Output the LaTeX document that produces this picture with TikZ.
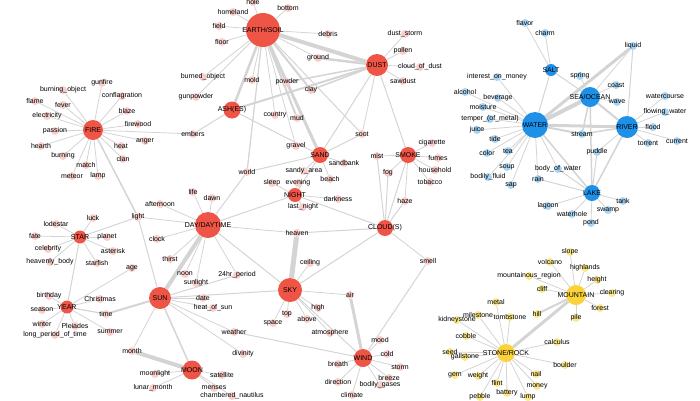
\documentclass[tikz,border=0pt]{standalone}
\usepackage{fontspec}
\setmainfont{Liberation Sans}
\usetikzlibrary{backgrounds}
\definecolor{hr}{HTML}{EF5546}
\definecolor{lr}{HTML}{F9CFCB}
\definecolor{hb}{HTML}{1E90E8}
\definecolor{lb}{HTML}{A9D5F5}
\definecolor{hy}{HTML}{FCD23A}
\definecolor{ly}{HTML}{FBE78C}
\definecolor{eg}{HTML}{D4D4D4}
\tikzset{
 lab/.style={font=\fontsize{7}{7}\selectfont,text=black,inner sep=0pt},
 hubR/.style={circle,fill=hr,inner sep=0pt,label={[lab]center:#1}},
 hubB/.style={circle,fill=hb,inner sep=0pt,label={[lab]center:#1}},
 hubY/.style={circle,fill=hy,inner sep=0pt,label={[lab]center:#1}},
 leafR/.style={circle,fill=lr,minimum size=8pt,inner sep=0pt,label={[lab]center:#1}},
 leafB/.style={circle,fill=lb,minimum size=8pt,inner sep=0pt,label={[lab]center:#1}},
 leafY/.style={circle,fill=ly,minimum size=8pt,inner sep=0pt,label={[lab]center:#1}},
 edge/.style={draw=eg,line width=0.8pt}
}
\begin{document}
\begin{tikzpicture}[x=1pt,y=-1pt]
\useasboundingbox (0,0) rectangle (700,400);
% hubs
\foreach \n/\x/\y/\s/\t in {earth/263/30/34/{EARTH/SOIL},dust/377/65/22/DUST,fire/93/130/20/FIRE,ash/232/110/17/ASH(ES),sand/320/155/16/SAND,smoke/408/155/16/SMOKE,night/295/195/14/NIGHT,day/208/225/26/{DAY/DAYTIME},cloud/385/228/16/CLOUD(S),star/80/237/13/STAR,year/67/307/13/YEAR,sun/160/298/22/SUN,sky/290/290/24/SKY,moon/192/370/19/MOON,wind/363/358/18/WIND}
  \node[hubR={\t},minimum size=\s pt] (\n) at (\x,\y) {};
\foreach \n/\x/\y/\s/\t in {water/535/125/26/WATER,sea/590/97/20/{SEA/OCEAN},salt/551/70/12/SALT,river/627/127/22/RIVER,lake/592/193/16/LAKE}
  \node[hubB={\t},minimum size=\s pt] (\n) at (\x,\y) {};
\foreach \n/\x/\y/\s/\t in {mtn/576/295/20/MOUNTAIN,rock/506/353/18/{STONE/ROCK}}
  \node[hubY={\t},minimum size=\s pt] (\n) at (\x,\y) {};
% leaves with edge to hub
\newcommand\leaves[3]{\foreach \n/\x/\y/\t in {#3}{\node[#2={\t}] (\n) at (\x,\y) {};
  \begin{pgfonlayer}{background}\draw[edge] (#1)--(\n);\end{pgfonlayer}}}
\leaves{earth}{leafR}{hole/253/2/hole,bottom/288/8/bottom,homeland/233/12/homeland,field/219/26/field,floor/222/42/floor,debris/328/34/debris,ground/318/58/ground,mold/252/80/mold,powder/287/82/powder,clay/311/90/clay,burned/203/77/burned\_object,gunpowder/196/97/gunpowder,country/275/115/country,mud/297/118/mud,gravel/296/146/gravel,world/247/172/world}
\leaves{dust}{leafR}{dstorm/405/34/dust\_storm,pollen/403/51/pollen,cdust/420/67/cloud\_of\_dust,sawdust/403/81/sawdust,soot/362/134/soot}
\leaves{fire}{leafR}{gunfire/102/83/gunfire,bobj/63/90/burning\_object,confl/122/96/conflagration,flame/35/101/flame,fever/63/105/fever,blaze/127/111/blaze,elec/47/116/electricity,firewood/138/124/firewood,passion/55/131/passion,anger/145/141/anger,heat/121/146/heat,hearth/41/146/hearth,burning/63/156/burning,clan/123/159/clan,match/86/165/match,meteor/72/176/meteor,lamp/98/176/lamp,embers/193/134/embers}
\leaves{sand}{leafR}{sandbank/344/163/sandbank,sandy/304/171/sandy\_area,beach/330/179/beach}
\leaves{night}{leafR}{sleep/272/183/sleep,evening/298/183/evening,darkness/338/199/darkness,lastn/303/207/last\_night}
\leaves{smoke}{leafR}{mist/377/156/mist,fog/388/173/fog,haze/405/201/haze,cig/432/143/cigarette,fumes/438/158/fumes,household/435/170/household,tobacco/430/182/tobacco}
\leaves{day}{leafR}{life/193/192/life,afternoon/160/204/afternoon,dawn/212/198/dawn,light/138/217/light,clock/157/239/clock,thirst/170/259/thirst,noon/185/274/noon,sunlight/196/283/sunlight,hr24/237/275/24hr\_period,heaven/297/233/heaven}
\leaves{star}{leafR}{luck/93/218/luck,lodestar/56/224/lodestar,fate/35/236/fate,planet/107/237/planet,celeb/48/249/celebrity,asterisk/113/251/asterisk,hbody/50/262/heavenly\_body,starfish/97/263/starfish}
\leaves{year}{leafR}{age/132/268/age,birthday/49/296/birthday,xmas/100/299/Christmas,season/42/310/season,time/106/314/time,winter/42/324/winter,pleiades/75/326/Pleiades,lpt/55/335/long\_period\_of\_time,summer/110/332/summer}
\leaves{sun}{leafR}{date/203/298/date,hos/213/308/heat\_of\_sun,weather/234/332/weather,month/132/351/month,divinity/243/354/divinity}
\leaves{moon}{leafR}{moonlight/155/374/moonlight,satellite/222/375/satellite,lunar/153/388/lunar\_month,menses/214/388/menses,nautilus/232/396/chambered\_nautilus}
\leaves{sky}{leafR}{ceiling/310/263/ceiling,top/287/314/top,above/307/319/above,high/318/308/high,space/273/323/space,atmos/330/333/atmosphere,air/350/295/air}
\leaves{wind}{leafR}{mood/380/340/mood,cold/387/354/cold,storm/400/367/storm,breeze/389/378/breeze,breath/338/364/breath,direction/338/382/direction,bgas/380/385/bodily\_gases,climate/352/395/climate}
\leaves{cloud}{leafR}{smell/428/261/smell}
\leaves{salt}{leafB}{flavor/525/23/flavor,charm/545/33/charm}
\leaves{sea}{leafB}{liquid/633/46/liquid,spring/580/76/spring,coast/616/85/coast,wave/617/102/wave}
\leaves{water}{leafB}{interest/497/77/interest\_on\_money,alcohol/465/92/alcohol,beverage/498/98/beverage,moisture/483/107/moisture,temper/490/119/temper\_(of\_metal),juice/477/130/juice,stream/582/134/stream,tide/495/139/tide,color/487/153/color,tea/508/151/tea,soup/507/167/soup,bow/558/169/body\_of\_water,bfluid/488/177/bodily\_fluid,rain/538/179/rain,sap/511/185/sap}
\leaves{river}{leafB}{wcourse/665/96/watercourse,fwater/665/112/flowing\_water,flood/653/127/flood,torrent/648/143/torrent,current/677/141/current,puddle/597/152/puddle}
\leaves{lake}{leafB}{lagoon/548/206/lagoon,tank/623/201/tank,waterhole/572/214/waterhole,swamp/608/210/swamp,pond/591/223/pond}
\leaves{mtn}{leafY}{slope/570/252/slope,volcano/550/262/volcano,highlands/585/268/highlands,mreg/529/276/mountainous\_region,height/597/280/height,cliff/542/289/cliff,clearing/612/293/clearing,forest/600/308/forest,pile/576/318/pile,hill/537/314/hill}
\leaves{rock}{leafY}{metal/496/302/metal,milestone/478/315/milestone,tombstone/510/317/tombstone,kidney/457/320/kidneystone,cobble/466/336/cobble,calculus/557/342/calculus,seed/450/352/seed,gallstone/465/357/gallstone,boulder/565/365/boulder,gem/455/375/gem,weight/478/376/weight,nail/536/374/nail,flint/497/383/flint,money/537/386/money,pebble/480/397/pebble,battery/507/393/battery,lump/528/397/lump}
% extra edges
\begin{pgfonlayer}{background}
\foreach \a/\b/\w in {earth/dust/4,earth/sand/3,earth/ash/2.5,earth/mud/2,earth/clay/2,dust/ground/2.5,dust/ash/2,dust/powder/1.5,dust/clay/1.5,dust/sand/1,dust/smoke/1,ash/embers/1,ash/sand/1,day/sun/4,day/sky/1,day/night/1,day/world/1,sky/heaven/5,moon/month/4,sun/moon/1.5,sun/time/2,sun/sky/1,wind/air/3,wind/weather/1,wind/smell/1,sky/cloud/1,sky/wind/1,cloud/night/1,cloud/heaven/1,cloud/smoke/1,cloud/mist/1,cloud/fog/1,cloud/haze/1,sand/night/1,sand/world/1,fire/light/1.5,star/year/1,star/light/1,year/time/1,sun/light/1,water/sea/4,water/river/3,water/liquid/3,sea/river/2,water/salt/1,water/lake/1.5,sea/lake/1.5,river/lake/1.5,water/stream/2,sea/stream/1.5,river/stream/1.5,lake/puddle/1,lake/bow/1,lake/rain/1,river/liquid/1,sea/salt/1,mtn/rock/3,mtn/hill/2,earth/world/1,earth/soot/1,sand/soot/1,sun/hr24/1}
  \draw[edge,line width=\w pt] (\a)--(\b);
\end{pgfonlayer}
\end{tikzpicture}
\end{document}
